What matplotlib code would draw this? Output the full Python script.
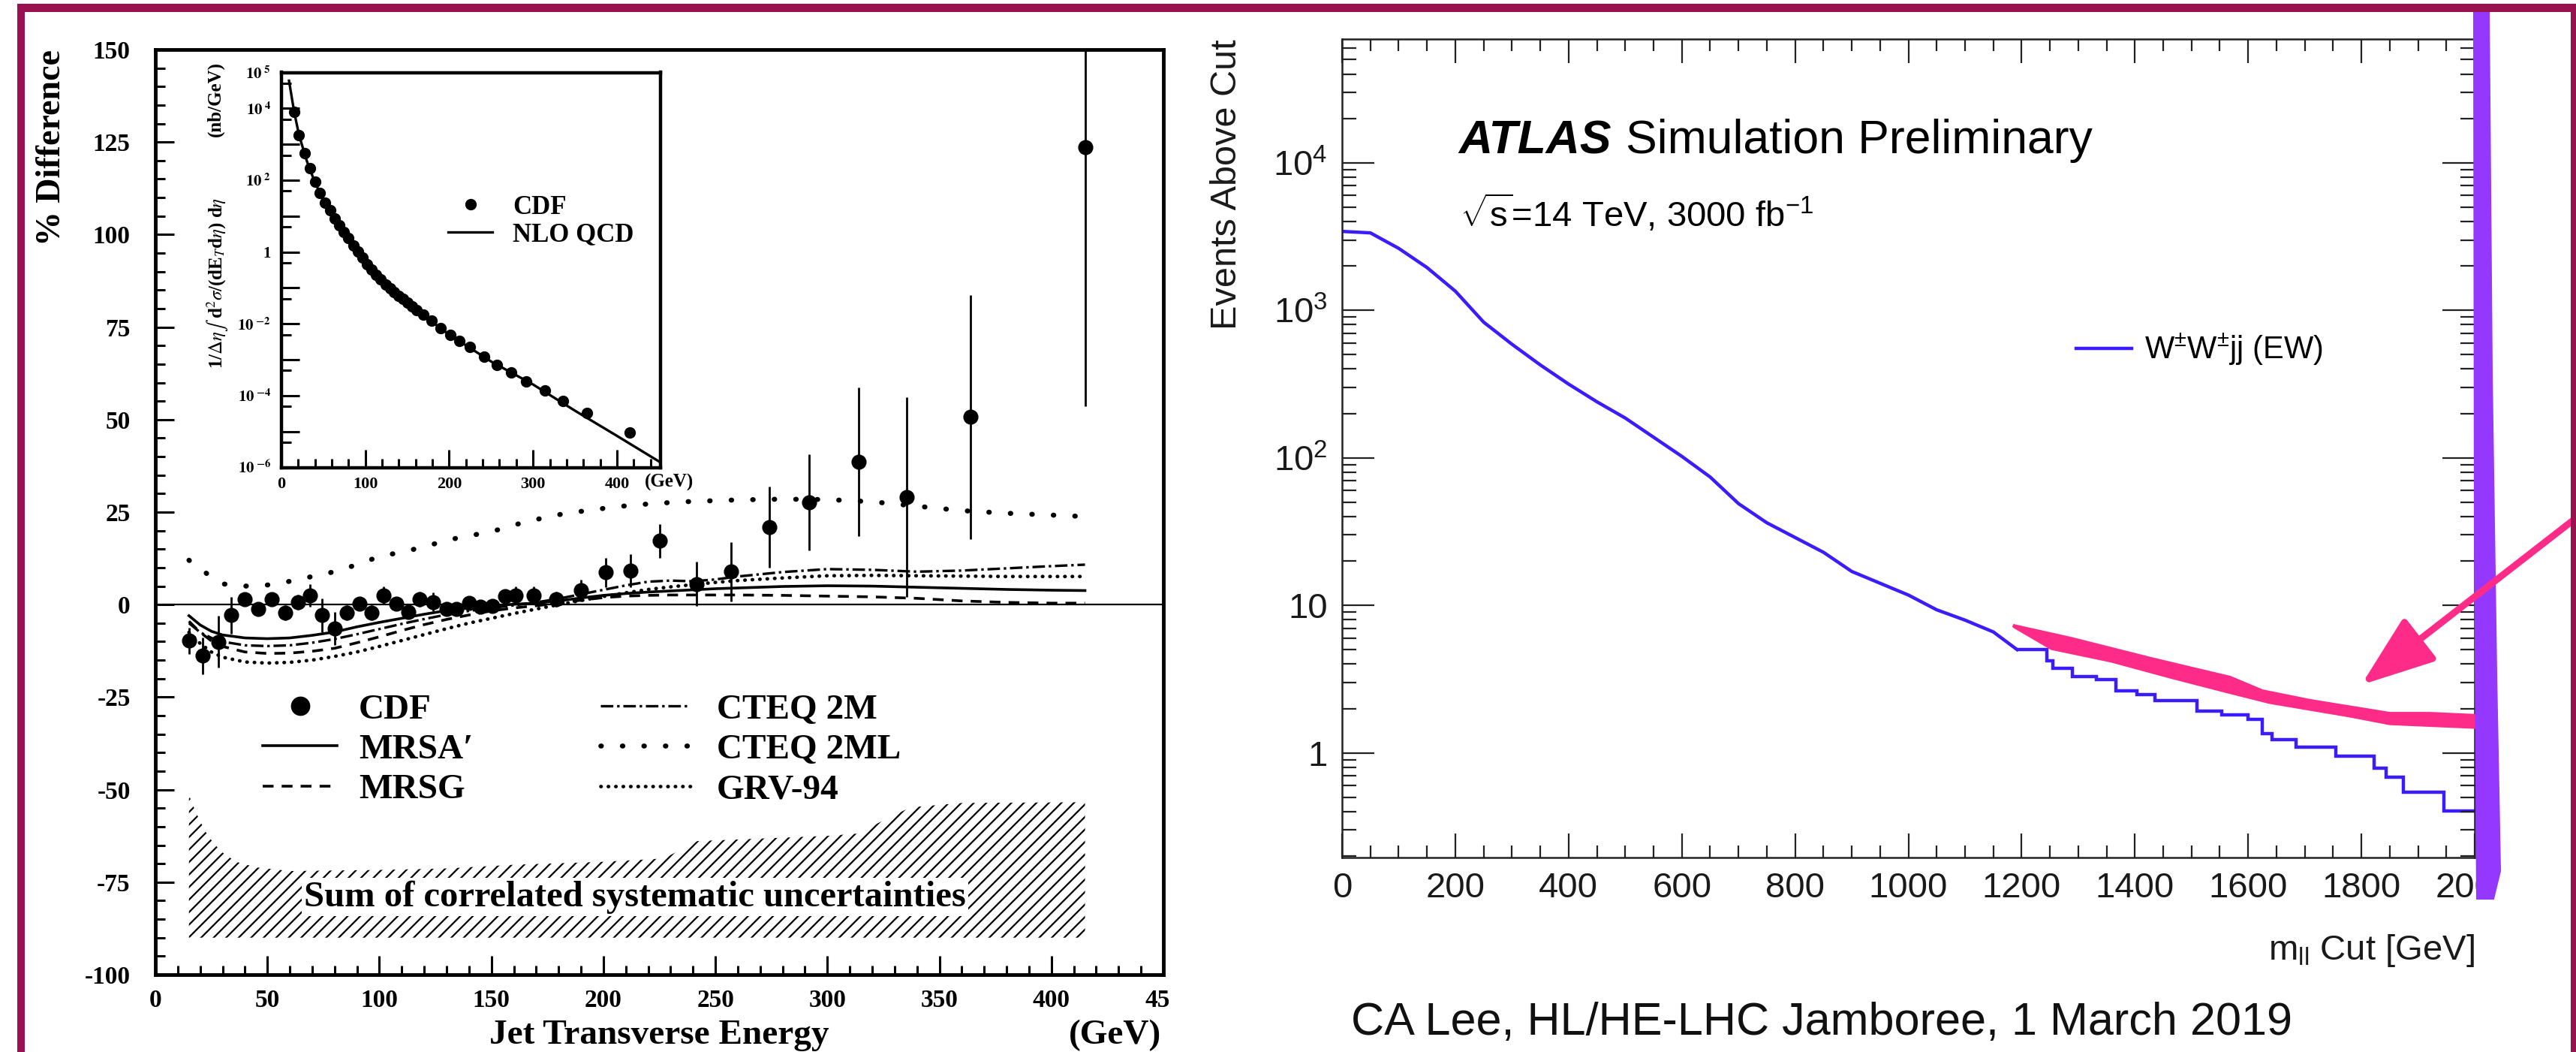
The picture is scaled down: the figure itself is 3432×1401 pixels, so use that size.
import matplotlib
matplotlib.use('Agg')
import matplotlib.pyplot as plt
import numpy as np
from matplotlib.patches import Rectangle, Polygon, FancyArrowPatch
from matplotlib.transforms import Bbox, TransformedBbox

W, H = 3432, 1401
SERIF = 'Liberation Serif'
SANS = 'Liberation Sans'
BLUE = '#3a1cff'
PINK = '#ff2b88'
PURPLE = '#9437ff'
FRAME = '#9a1150'

plt.rcParams['mathtext.fontset'] = 'custom'
plt.rcParams['mathtext.rm'] = SANS
plt.rcParams['mathtext.it'] = SANS + ':italic'
plt.rcParams['mathtext.bf'] = SANS + ':bold'
plt.rcParams['hatch.linewidth'] = 1.6
plt.rcParams['axes.unicode_minus'] = False

# ---------------- left panel: CDF jets, % difference vs NLO QCD
cdf_et = [15, 21, 28, 34, 40, 46, 52, 58, 63.5, 69, 74.5, 80, 85.5, 91, 96.5,
          102, 107.5, 113, 118, 124, 130, 134.5, 140, 145, 150.5, 156, 161, 169,
          179, 190, 201, 212, 225, 241.5, 257, 274, 292, 314, 335.5, 364, 415]
cdf_diff = [-9.8, -13.8, -10.1, -2.9, 1.4, -1.1, 1.4, -2.2, 0.7, 2.5, -2.9, -6.5,
            -2.2, 0.2, -2.2, 2.5, 0.2, -2.0, 1.4, 0.7, -1.1, -1.1, 0.4, -0.5, -0.4,
            2.2, 2.5, 2.5, 1.4, 3.8, 8.7, 9.2, 17.2, 5.6, 8.9, 21.0, 27.7, 38.6,
            29.0, 50.7, 123.6]
cdf_err = [3.5, 5, 7, 5, 1.5, 1.5, 1.5, 2, 2, 3, 4.5, 4.5, 2, 1.5, 2, 2.5, 1.5,
           1.5, 2, 2.5, 1.5, 1.5, 1.5, 1.5, 1.5, 2, 2.5, 2.5, 2, 3, 4, 4.5, 4.5,
           6, 8, 11, 13, 20, 27, 33, 70]

th_et = [15, 20, 25, 30, 40, 50, 60, 70, 80, 90, 100, 110, 120, 130, 140, 150,
         160, 170, 180, 190, 200, 210, 220, 230, 240, 250, 260, 280, 300, 320,
         340, 360, 380, 400, 415]
mrsa = [-3.0, -5.5, -7.2, -8.2, -9.0, -9.2, -9.0, -8.3, -7.4, -6.0, -4.8, -3.7,
        -2.6, -1.6, -0.9, -0.3, 0.1, 0.4, 1.0, 1.8, 2.5, 3.0, 3.4, 3.7, 4.0, 4.3,
        4.5, 4.9, 5.1, 5.0, 4.7, 4.4, 4.1, 3.9, 3.8]
mrsg = [-4.5, -7.5, -9.8, -11.3, -12.8, -13.2, -13.1, -12.6, -11.8, -10.3, -8.7,
        -7.0, -5.4, -4.0, -2.8, -1.7, -0.9, -0.3, 0.4, 1.2, 1.9, 2.3, 2.5, 2.6,
        2.6, 2.6, 2.6, 2.5, 2.3, 2.1, 1.7, 1.0, 0.6, 0.4, 0.4]
cteq2m = [-5.0, -7.5, -9.0, -10.0, -11.0, -11.2, -11.0, -10.3, -9.3, -8.0, -6.6,
          -5.2, -3.9, -2.7, -1.7, -0.9, -0.2, 0.6, 1.6, 2.8, 4.0, 5.2, 6.2, 6.5,
          6.3, 6.8, 7.6, 8.8, 9.6, 9.4, 8.9, 9.2, 9.8, 10.4, 10.8]
cteq2ml = [12.0, 9.8, 7.4, 5.6, 5.0, 5.3, 6.3, 7.6, 8.9, 10.8, 13.0, 14.2, 15.6,
           17.4, 18.6, 19.7, 21.5, 23.0, 24.3, 25.2, 26.0, 26.7, 27.2, 27.6, 27.9,
           28.1, 28.3, 28.5, 28.4, 27.8, 26.6, 25.4, 24.7, 24.2, 23.8]
grv94 = [-7.5, -10.5, -12.8, -14.2, -15.5, -15.8, -15.6, -15.0, -14.0, -12.8,
         -11.3, -9.7, -8.1, -6.5, -5.0, -3.7, -2.4, -1.2, 0.0, 1.1, 2.2, 3.2, 4.1,
         4.8, 5.4, 6.0, 6.5, 7.2, 7.8, 7.9, 7.8, 7.7, 7.6, 7.6, 7.6]

band_et = [15, 18, 22, 26, 30, 36, 45, 60, 100, 130, 160, 200, 227, 242, 300,
           313, 337, 360, 415]
band_top = [-51.5, -56, -61, -64.5, -67, -69.5, -71, -72, -71.7, -71.3, -70.3,
            -69.5, -68.6, -63.9, -62.5, -61.9, -54.8, -53.6, -53.4]
band_bottom = -90

# inset: cross section (log10 of nb/GeV)
inset_log_xsec = [3.90, 3.25, 2.75, 2.33, 1.95, 1.64, 1.38, 1.16, 0.93, 0.74, 0.56,
                  0.38, 0.19, 0.01, -0.16, -0.34, -0.50, -0.64, -0.76, -0.90, -1.02,
                  -1.11, -1.22, -1.31, -1.42, -1.52, -1.62, -1.75, -1.91, -2.12,
                  -2.30, -2.47, -2.65, -2.91, -3.15, -3.36, -3.60, -3.86, -4.15,
                  -4.49, -5.03]
nlo_et = [9, 15, 21, 30, 40, 50, 60, 80, 100, 125, 150, 175, 200, 250, 300, 350, 400, 452]
nlo_log_xsec = [4.77, 3.92, 3.25, 2.55, 1.93, 1.45, 1.05, 0.36, -0.32, -0.93,
                -1.43, -1.87, -2.30, -3.05, -3.69, -4.42, -5.12, -5.86]

left_yticks = [-100, -75, -50, -25, 0, 25, 50, 75, 100, 125, 150]
left_xticks = [0, 50, 100, 150, 200, 250, 300, 350, 400, 450]
inset_label_exp = [5, 4, 2, 0, -2, -4, -6]

# ---------------- right panel: ATLAS W+-W+-jj events above m_ll cut
mll_smooth = [0, 50, 100, 150, 200, 250, 300, 350, 400, 450, 500, 550, 600, 650,
              700, 750, 800, 850, 900, 950, 1000, 1050, 1100, 1150, 1192]
log_events_smooth = [3.535, 3.525, 3.42, 3.29, 3.13, 2.92, 2.77, 2.63, 2.50, 2.38,
                     2.27, 2.14, 2.01, 1.87, 1.69, 1.56, 1.46, 1.36, 1.23, 1.15,
                     1.07, 0.97, 0.90, 0.82, 0.70]
tail_edges = [1192, 1245, 1255, 1290, 1332, 1366, 1403, 1435, 1509, 1554, 1600,
              1625, 1642, 1685, 1755, 1822, 1843, 1874, 1945, 2000]
tail_events = [5.0, 4.2, 3.73, 3.29, 3.13, 2.65, 2.48, 2.25, 1.92, 1.81, 1.68,
               1.35, 1.23, 1.09, 0.953, 0.784, 0.684, 0.541, 0.403]

# hand-drawn highlight along the tail (data coords of right panel)
pink_upper_m = [1185, 1287, 1428, 1568, 1625, 1710, 1850, 1920, 2004]
pink_upper_v = [7.3, 5.97, 4.36, 3.25, 2.63, 2.26, 1.85, 1.85, 1.79]
pink_lower_m = [1189, 1253, 1358, 1465, 1568, 1638, 1780, 1850, 2004]
pink_lower_v = [7.1, 5.1, 4.2, 3.25, 2.57, 2.20, 1.78, 1.58, 1.49]

right_xticks = [0, 200, 400, 600, 800, 1000, 1200, 1400, 1600, 1800, 2000]

fig = plt.figure(figsize=(W / 100, H / 100), dpi=100)


def box(x0, y0, x1, y1):
    # pixel box measured from top-left -> figure fraction rect
    return [x0 / W, 1 - y1 / H, (x1 - x0) / W, (y1 - y0) / H]


def clip_right(text, xpix):
    text.set_clip_box(TransformedBbox(Bbox([[0, 0], [xpix / W, 1]]), fig.transFigure))
    text.set_clip_on(True)


# ================= left main axes
ax = fig.add_axes(box(207, 66, 1550, 1298))
ax.set_xlim(0, 450)
ax.set_ylim(-100, 150)

ax.fill_between(band_et, band_bottom, band_top, facecolor='none', edgecolor='k',
                hatch='//', lw=0)
ax.text(214, -79, 'Sum of correlated systematic uncertainties', ha='center',
        va='center', family=SERIF, weight='bold', fontsize=35,
        bbox=dict(facecolor='white', edgecolor='none', pad=2))
ax.axhline(0, color='k', lw=1.6)

l_mrsa, = ax.plot(th_et, mrsa, color='k', lw=2.6)
l_mrsg, = ax.plot(th_et, mrsg, color='k', lw=2.6, ls=(0, (4, 3)))
l_c2m, = ax.plot(th_et, cteq2m, color='k', lw=2.4, ls=(0, (5, 1.5, 1, 1.5)))
l_c2ml, = ax.plot(th_et, cteq2ml, color='k', lw=4.8, ls=(0, (0.1, 4.2)),
                  dash_capstyle='round')
l_grv, = ax.plot(th_et, grv94, color='k', lw=3.4, ls=(0, (0.1, 2.0)),
                 dash_capstyle='round')
cdf = ax.errorbar(cdf_et, cdf_diff, yerr=cdf_err, fmt='o', color='k', ms=13.5,
                  elinewidth=2.0, capsize=0, zorder=5)

leg_kw = dict(loc='upper left', bbox_transform=ax.transData, frameon=False,
              borderpad=0, borderaxespad=0, labelspacing=0.22, markerscale=1.3,
              prop={'family': SERIF, 'weight': 'bold', 'size': 34})
leg1 = ax.legend([cdf[0], l_mrsa, l_mrsg], ['CDF', 'MRSA\u2032', 'MRSG'],
                 bbox_to_anchor=(48, -24.0), handlelength=2.1, handletextpad=0.6,
                 **leg_kw)
ax.add_artist(leg1)
ax.legend([l_c2m, l_c2ml, l_grv], ['CTEQ 2M', 'CTEQ 2ML', 'GRV-94'],
          bbox_to_anchor=(198.6, -24.0), handlelength=2.55, handletextpad=0.74,
          **leg_kw)

ax.set_xticks(left_xticks, labels=[str(t) for t in left_xticks], family=SERIF,
              weight='bold', fontsize=24)
ax.set_xticks(range(10, 450, 10), minor=True)
ax.set_yticks(left_yticks, labels=[str(t) for t in left_yticks], family=SERIF,
              weight='bold', fontsize=24)
ax.set_yticks(range(-95, 150, 5), minor=True)
ax.tick_params(which='both', direction='in', top=False, right=False, width=2.2)
ax.tick_params(which='major', length=18)
ax.tick_params(which='minor', length=9)
ax.tick_params(axis='y', pad=24)
ax.tick_params(axis='x', pad=14)
for s in ax.spines.values():
    s.set_linewidth(3.5)
clip_right(ax.get_xticklabels()[-1], 1557)

ax.set_ylabel('% Difference', family=SERIF, weight='bold', fontsize=33, loc='top')
ax.yaxis.set_label_coords(-0.0871, 1.0)
ax.set_xlabel('Jet Transverse Energy', family=SERIF, weight='bold', fontsize=34)
ax.xaxis.set_label_coords(0.4996, -0.0487)
ax.xaxis.label.set_va('top')
ax.text(0.9978, -0.0487, '(GeV)', transform=ax.transAxes, ha='right', va='top',
        family=SERIF, weight='bold', fontsize=34)

# ================= inset
axi = fig.add_axes(box(375, 96.5, 880, 622.5))
axi.set_yscale('log')
axi.set_xlim(0, 452)
axi.set_ylim(1e-6, 1e5)
nlo_line, = axi.plot(nlo_et, 10.0 ** np.array(nlo_log_xsec), color='k', lw=2.4)
cdf_in, = axi.plot(cdf_et, 10.0 ** np.array(inset_log_xsec), 'o', color='k', ms=10)
axi.legend([cdf_in, nlo_line], ['CDF', 'NLO QCD'], loc='upper left',
           bbox_to_anchor=(0.44, 0.69), frameon=False, borderpad=0, borderaxespad=0,
           handlelength=1.7, handletextpad=0.78, labelspacing=0.1,
           prop={'family': SERIF, 'weight': 'bold', 'size': 25})

dec = list(range(-6, 6))
labs = []
for e in dec:
    if e not in inset_label_exp:
        labs.append('')
    elif e == 0:
        labs.append('1')
    else:
        labs.append(r'$\mathbf{10}^{\ \mathbf{%d}}$' % e)
axi.set_yticks([10.0 ** e for e in dec], labels=labs, family=SERIF, weight='bold',
               fontsize=15, math_fontfamily='stix')
axi.set_yticks([5 * 10.0 ** e for e in range(-6, 5)], minor=True)
axi.yaxis.set_minor_formatter(plt.NullFormatter())
axi.set_xticks([0, 100, 200, 300, 400], labels=['0', '100', '200', '300', '400'],
               family=SERIF, weight='bold', fontsize=16)
axi.set_xticks(range(20, 452, 20), minor=True)
axi.tick_params(which='both', direction='in', top=False, right=False, width=2.2)
axi.tick_params(which='major', length=17)
axi.tick_params(which='minor', length=9)
axi.tick_params(axis='y', pad=10)
axi.tick_params(axis='x', pad=9)
for s in axi.spines.values():
    s.set_linewidth(3.2)
axi.text(0.958, -0.037, '(GeV)', transform=axi.transAxes, ha='left', va='center',
         family=SERIF, weight='bold', fontsize=18)
fig.text(290 / W, 1 - 377 / H,
         r'1/$\Delta\eta\int$ d$^2\sigma$/(dE$_T$d$\eta$) d$\eta$',
         rotation=90, ha='center', va='center', family=SERIF, weight='bold',
         fontsize=18, math_fontfamily='stix')
fig.text(287 / W, 1 - 132 / H, '(nb/GeV)', rotation=90, ha='center', va='center',
         family=SERIF, weight='bold', fontsize=18)

# ================= right panel
ax2 = fig.add_axes(box(1788, 52, 3297, 1141.7))
ax2.set_yscale('log')
ax2.set_xlim(0, 2000)
ax2.set_ylim(0.196, 6.9e4)
wwjj, = ax2.plot(mll_smooth, 10.0 ** np.array(log_events_smooth), color=BLUE, lw=3.2)
ax2.stairs(tail_events, tail_edges, color=BLUE, lw=3.2, baseline=None)

ax2.fill(pink_upper_m + pink_lower_m[::-1], pink_upper_v + pink_lower_v[::-1],
         color=PINK, lw=3, zorder=4, clip_on=False)

ax2.legend([wwjj], [r'W$^{\pm}$W$^{\pm}$jj (EW)'], loc='center left',
           bbox_to_anchor=(0.6481, 0.6205), frameon=False, borderpad=0,
           borderaxespad=0, handlelength=1.78, handletextpad=0.4,
           prop={'family': SANS, 'size': 30})

ax2.set_xticks(right_xticks, labels=[str(t) for t in right_xticks], family=SANS,
               fontsize=34, color='#1a1a1a')
ax2.set_xticks(range(50, 2000, 50), minor=True)
ax2.set_yticks([1, 10, 100, 1e3, 1e4],
               labels=['1', '10', r'$10^{2}$', r'$10^{3}$', r'$10^{4}$'],
               family=SANS, fontsize=34, color='#1a1a1a')
ax2.set_yticks([m * 10.0 ** e for e in range(-1, 5) for m in range(2, 10)
                if 0.196 < m * 10.0 ** e < 6.9e4], minor=True)
ax2.yaxis.set_minor_formatter(plt.NullFormatter())
ax2.tick_params(which='both', direction='in', top=True, right=True, width=1.6,
                color='#222222')
ax2.tick_params(axis='x', which='major', length=23, pad=14)
ax2.tick_params(axis='x', which='minor', length=11.5)
ax2.tick_params(axis='y', which='major', length=31, pad=14)
ax2.tick_params(axis='y', which='minor', length=14)
for s in ax2.spines.values():
    s.set_linewidth(1.8)
    s.set_color('#222222')
clip_right(ax2.get_xticklabels()[-1], 3300)

ax2.set_ylabel('Events Above Cut', family=SANS, fontsize=35, loc='top', color='#1a1a1a')
ax2.yaxis.set_label_coords(-0.087, 1.0)
ax2.set_xlabel(r'm$_{\rm ll}$ Cut [GeV]', family=SANS, fontsize=34, loc='right',
               color='#1a1a1a')
ax2.xaxis.set_label_coords(1.0, -0.092)

atlas = ax2.text(0.1027, 0.8756, 'ATLAS', transform=ax2.transAxes, family=SANS,
                 weight='bold', style='italic', fontsize=45, va='center')
ax2.annotate('Simulation Preliminary', xy=(1, 0), xycoords=atlas, xytext=(14, 0),
             textcoords='offset points', va='bottom', ha='left', family=SANS,
             fontsize=45)
ax2.text(0.1041, 0.787, r'$\sqrt{\rm s}$=14 TeV, 3000 fb$^{-1}$', transform=ax2.transAxes,
         family=SANS, fontsize=34, va='center')

fig.text(1800 / W, 1 - 1363 / H, 'CA Lee, HL/HE-LHC Jamboree, 1 March 2019',
         family=SANS, fontsize=44, ha='left', va='center', color='#111111')

# ================= hand annotations over the slide
purple_x = [3296, 3316, 3320, 3326, 3331, 3322, 3300, 3297]
purple_y = [16, 16, 500, 900, 1160, 1197, 1197, 700]
fig.add_artist(Polygon([(x / W, 1 - y / H) for x, y in zip(purple_x, purple_y)],
                       closed=True, transform=fig.transFigure, facecolor=PURPLE,
                       edgecolor=PURPLE, lw=1.5, zorder=20))
fig.add_artist(FancyArrowPatch((3428 / W, 1 - 693 / H), (3146 / W, 1 - 912 / H),
                               transform=fig.transFigure,
                               arrowstyle='-|>,head_length=1.5,head_width=0.55',
                               mutation_scale=40, color=PINK, lw=6.5,
                               shrinkA=0, shrinkB=0, zorder=21))

# slide frame
for rect in [(23, 5, 33, H), (23, 5, W, 16), (3425, 5, W, H)]:
    x0, y0, x1, y1 = rect
    fig.add_artist(Rectangle((x0 / W, 1 - y1 / H), (x1 - x0) / W, (y1 - y0) / H,
                             transform=fig.transFigure, facecolor=FRAME,
                             edgecolor='none', zorder=30))

fig.savefig('out.png', dpi=100, facecolor='white')
